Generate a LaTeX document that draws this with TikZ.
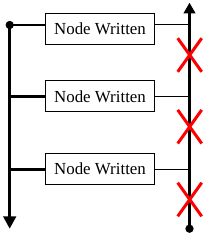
\documentclass[tikz,border=0pt]{standalone}
\usepackage{fontspec}
\setmainfont{Liberation Serif}
\usetikzlibrary{arrows.meta}
\begin{document}
\begin{tikzpicture}[x=1pt,y=-1pt,
  box/.style={draw, line width=1pt, minimum width=109pt, minimum height=31pt, inner sep=0pt,
    font=\fontsize{16.9}{20}\selectfont},
  spine/.style={line width=2.6pt},
  feeder/.style={line width=2.6pt},
  tap/.style={line width=1pt},
  cross/.style={red, line width=3pt},
  dotmark/.style={circle, fill=black, inner sep=0pt, minimum size=8.3pt}]
\useasboundingbox (0,0) rectangle (207,237);
% boxes
\node[box] (b1) at (100,28.8) {Node Written};
\node[box] (b2) at (100,96.4) {Node Written};
\node[box] (b3) at (100,168.7) {Node Written};
% left spine
\node[dotmark] (ld) at (9.7,25) {};
\coordinate (lend) at (9.7,228.7);
\coordinate (l2) at (9.7,96.8);
\coordinate (l3) at (9.7,169.4);
\draw[spine, -{Triangle[width=12.7pt,length=12.4pt]}] (ld.center) -- (lend);
\draw[feeder] (ld.center) -- (ld.center -| b1.west);
\draw[feeder] (l2) -- (l2 -| b2.west);
\draw[feeder] (l3) -- (l3 -| b3.west);
% right spine
\node[dotmark] (rd) at (189.5,228.7) {};
\coordinate (rtop) at (189.5,2.7);
\coordinate (r1) at (189.5,25);
\coordinate (r2) at (189.5,96.8);
\coordinate (r3) at (189.5,169.6);
\draw[line width=2.3pt, -{Triangle[width=11.4pt,length=10.6pt]}] (rd.center) -- (rtop);
\draw[tap] (r1 -| b1.east) -- (r1);
\draw[tap] (r2 -| b2.east) -- (r2);
\draw[tap] (r3 -| b3.east) -- (r3);
% red crosses
\foreach \cy in {55,126.7,199.5}{
  \draw[cross] (177.7,\cy-16.8) -- (201.7,\cy+16.8);
  \draw[cross] (201.7,\cy-16.8) -- (177.7,\cy+16.8);
}
\end{tikzpicture}
\end{document}
